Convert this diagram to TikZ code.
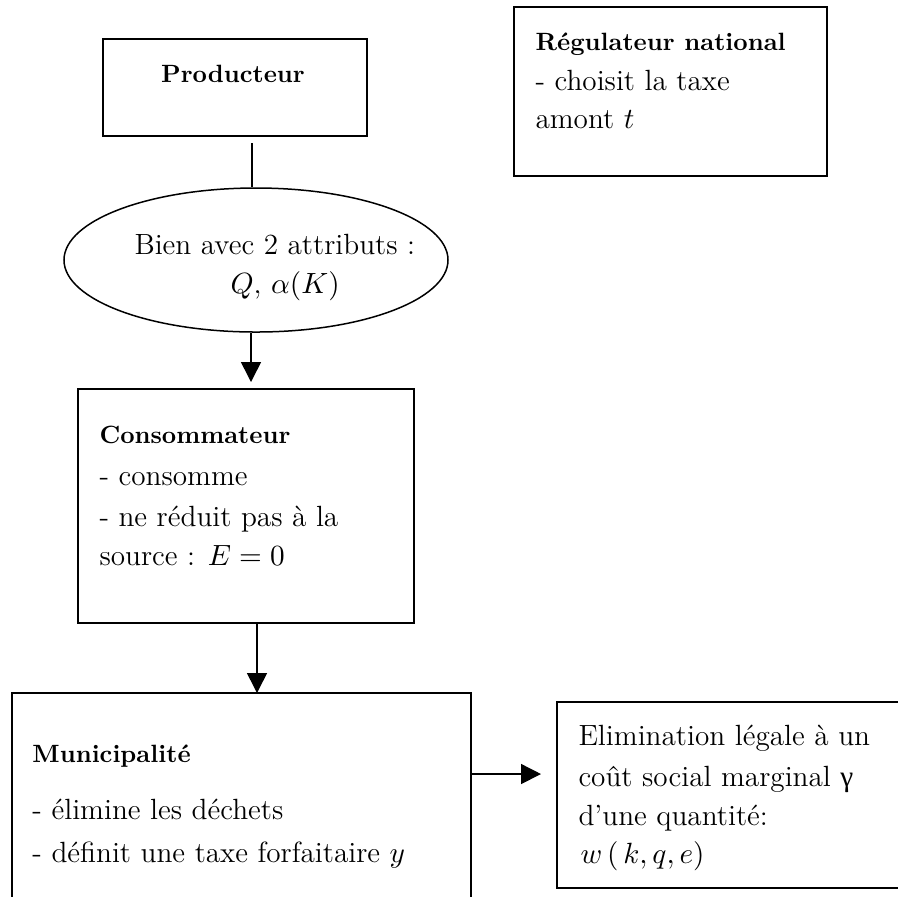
\documentclass[tikz,border=0pt]{standalone}
\usepackage{fix-cm}
\usepackage{fontspec}
\newfontfamily\grk{Liberation Serif}
\usetikzlibrary{shapes.geometric,arrows.meta,fit}
\newcommand\straightq{{\addfontfeature{Ligatures=TeXOff}'}}
\begin{document}
\begin{tikzpicture}[x=0.4pt,y=-0.4pt,
  box/.style={draw,line width=0.6pt,inner sep=0pt,fit=#1},
  txt/.style={anchor=base west,inner sep=0pt,font=\fontsize{11.7}{14}\selectfont},
  hd/.style={anchor=base west,inner sep=0pt,font=\fontsize{10}{12}\selectfont\bfseries},
  conn/.style={line width=0.6pt},
  arr/.style={line width=0.6pt,-{Triangle[width=8pt,length=8pt]}}]
\useasboundingbox (0,0) rectangle (898,896);
\clip (0,0) rectangle (898,896);

% Producteur
\coordinate (prodA) at (103,39);
\coordinate (prodB) at (367,136);
\node[box={(prodA)(prodB)}] (prod) {};
\node[hd,anchor=base] (prodt) at (233,82) {Producteur};

% Regulateur national
\coordinate (regA) at (514,7);
\coordinate (regB) at (827,176);
\node[box={(regA)(regB)}] (reg) {};
\node[hd] (regt1) at (535,50) {Régulateur national};
\node[txt] (regt2) at (535,90) {- choisit la taxe};
\node[txt] (regt3) at (535,128) {amont $t$};

% Ellipse
\node[draw,ellipse,line width=0.6pt,minimum width=153.6pt,minimum height=57.6pt,inner sep=0pt] (ell) at (256,260) {};
\node[txt] (ellt1) at (134,254) {Bien avec 2 attributs :};
\node[txt] (ellt2) at (230,293) {$Q$, $\alpha(K)$};

\coordinate (l1a) at (252,143);
\draw[conn] (l1a) -- (l1a |- ell.north);

% Consommateur
\coordinate (consA) at (78,389);
\coordinate (consB) at (414,623);
\node[box={(consA)(consB)}] (cons) {};
\node[hd] (const1) at (99,443) {Consommateur};
\node[txt] (const2) at (99,485) {- consomme};
\node[txt] (const3) at (99,526) {- ne réduit pas à la};
\node[txt] (const4) at (99,565) {source : $E=0$};

\coordinate (a1) at (251,382);
\draw[arr] (a1 |- ell.south) -- (a1);

% Municipalite
\coordinate (munA) at (12,693);
\coordinate (munB) at (471,930);
\node[box={(munA)(munB)}] (mun) {};
\node[hd] (munt1) at (32,762) {Municipalité};
\node[txt] (munt2) at (32,819) {- élimine les déchets};
\node[txt] (munt3) at (32,862) {- définit une taxe forfaitaire $y$};

\coordinate (a2) at (257,693);
\draw[arr] (a2 |- cons.south) -- (a2);

% Elimination
\coordinate (elA) at (557,702);
\coordinate (elB) at (930,888);
\node[box={(elA)(elB)}] (elim) {};
\node[txt] (elt1) at (578,745) {Elimination légale à un};
\node[txt] (elt2) at (578,786) {coût social marginal {\grk γ}};
\node[txt] (elt3) at (578,825) {d\straightq une quantité:};
\node[txt] (elt4) at (580,863) {$w\,(\,k,q,e)$};

\coordinate (a3) at (541,774);
\draw[arr] (mun.east |- a3) -- (a3);
\end{tikzpicture}
\end{document}
